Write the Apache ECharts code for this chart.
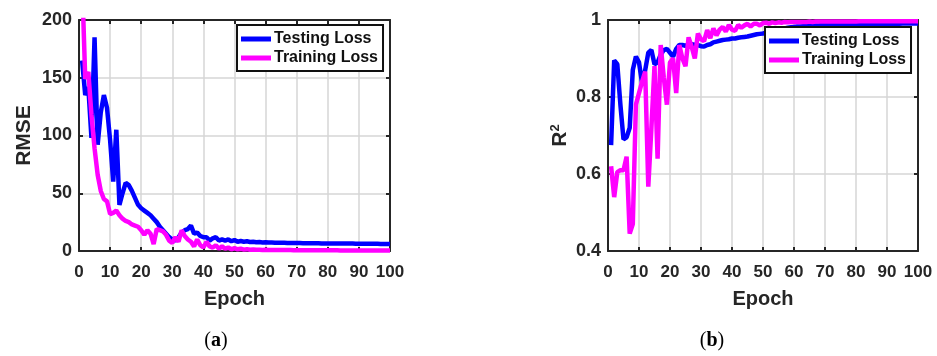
<!DOCTYPE html>
<html>
<head>
<meta charset="utf-8">
<script src="https://cdn.jsdelivr.net/npm/echarts@6/dist/echarts.min.js"></script>
<style>
  html, body { margin: 0; padding: 0; background: #fff; }
  #main { width: 937px; height: 356px; }
</style>
</head>
<body>
<div id="main"></div>
<script>
// 左图：RMSE，右图：R^2，横轴为 epoch 1..100
var seriesNames = ['Testing Loss', 'Training Loss'];

var testRmse = [
  165, 135, 142, 98, 185, 92, 120, 135, 124, 96,
  60, 105, 40, 50, 59, 57, 52, 46, 40, 37,
  35, 33, 31, 28, 25, 21, 18, 15, 12, 10,
  9, 12, 16, 18, 19, 22, 15, 16, 13, 12,
  12, 9, 11, 12, 9, 10, 9, 10, 8.5, 9.5,
  8, 8.6, 8, 8.4, 7.8, 8, 7.6, 7.7, 7.4, 7.5,
  7.3, 7.3, 7.2, 7.2, 7.1, 7.1, 7, 7, 7, 6.9,
  6.9, 6.8, 6.8, 6.8, 6.7, 6.7, 6.7, 6.6, 6.6, 6.6,
  6.5, 6.5, 6.5, 6.5, 6.4, 6.4, 6.4, 6.4, 6.3, 6.3,
  6.3, 6.3, 6.2, 6.2, 6.2, 6.2, 6.1, 6.1, 6.1, 6.0
];
var trainRmse = [
  235, 149, 155, 118, 89, 66, 52, 45, 43, 32,
  33, 35, 31, 28, 26, 25, 23, 22, 21, 18,
  14, 18, 15, 6, 19, 18, 17, 14, 9, 7,
  12, 8, 18, 13, 10, 8, 4, 10, 5, 3,
  8, 4, 3, 5, 2, 4, 2, 3, 1.5, 2.5,
  1.5, 2, 1.2, 1.6, 1.1, 1.3, 1, 1.1, 0.9, 1,
  0.9, 0.9, 0.9, 0.8, 0.8, 0.8, 0.8, 0.8, 0.7, 0.7,
  0.7, 0.7, 0.7, 0.7, 0.6, 0.6, 0.6, 0.6, 0.6, 0.6,
  0.6, 0.6, 0.6, 0.5, 0.5, 0.5, 0.5, 0.5, 0.5, 0.5,
  0.5, 0.5, 0.5, 0.5, 0.5, 0.5, 0.5, 0.5, 0.5, 0.5
];
var testR2 = [
  0.675, 0.895, 0.885, 0.78, 0.69, 0.695, 0.72, 0.87, 0.905, 0.89,
  0.835, 0.87, 0.915, 0.922, 0.885, 0.89, 0.91, 0.922, 0.925, 0.915,
  0.905, 0.925, 0.935, 0.935, 0.933, 0.935, 0.937, 0.936, 0.935, 0.932,
  0.931, 0.935, 0.937, 0.942, 0.944, 0.946, 0.948, 0.949, 0.95, 0.952,
  0.952, 0.954, 0.955, 0.956, 0.957, 0.959, 0.961, 0.963, 0.964, 0.965,
  0.967, 0.969, 0.971, 0.973, 0.975, 0.977, 0.978, 0.98, 0.981, 0.982,
  0.983, 0.983, 0.984, 0.984, 0.985, 0.985, 0.986, 0.986, 0.987, 0.987,
  0.987, 0.988, 0.988, 0.988, 0.988, 0.989, 0.989, 0.989, 0.989, 0.989,
  0.99, 0.99, 0.99, 0.99, 0.99, 0.99, 0.99, 0.99, 0.99, 0.99,
  0.99, 0.99, 0.99, 0.99, 0.991, 0.991, 0.991, 0.991, 0.991, 0.991
];
var trainR2 = [
  0.62, 0.54, 0.605, 0.61, 0.61, 0.645, 0.445, 0.47, 0.78, 0.81,
  0.84, 0.866, 0.567, 0.72, 0.88, 0.64, 0.935, 0.85, 0.78, 0.89,
  0.90, 0.81, 0.935, 0.90, 0.88, 0.955, 0.93, 0.90, 0.965, 0.95,
  0.945, 0.974, 0.953, 0.978, 0.96, 0.975, 0.982, 0.97, 0.987, 0.975,
  0.972, 0.987, 0.98, 0.986, 0.99, 0.983, 0.99, 0.99, 0.986, 0.992,
  0.993, 0.99, 0.994, 0.992, 0.994, 0.993, 0.995, 0.994, 0.995, 0.995,
  0.995, 0.995, 0.995, 0.995, 0.996, 0.995, 0.996, 0.996, 0.996, 0.996,
  0.996, 0.996, 0.996, 0.996, 0.996, 0.996, 0.996, 0.996, 0.996, 0.996,
  0.997, 0.997, 0.997, 0.997, 0.997, 0.997, 0.997, 0.997, 0.997, 0.997,
  0.997, 0.997, 0.997, 0.997, 0.997, 0.997, 0.997, 0.997, 0.997, 0.997
];

var FONT = '"Liberation Sans", Arial, sans-serif';
var AX = '#262626';

function toPairs(arr) {
  return arr.map(function (v, i) { return [i + 1, v]; });
}

function mainX(gi) {
  return {
    type: 'value', gridIndex: gi, min: 0, max: 100, interval: 10,
    name: 'Epoch', nameLocation: 'middle', nameGap: 38,
    nameTextStyle: { fontFamily: FONT, fontWeight: 'bold', fontSize: 20, color: AX },
    axisLine: { show: true, onZero: false, lineStyle: { color: AX, width: 2 } },
    axisTick: { show: true, inside: true, length: 4, lineStyle: { color: AX, width: 2 } },
    axisLabel: { fontFamily: FONT, fontWeight: 'bold', fontSize: 17, color: AX, margin: 13 },
    splitLine: { show: true, lineStyle: { color: '#d6d6d6', width: 1.5 } }
  };
}
function topX(gi) {
  return {
    type: 'value', gridIndex: gi, position: 'top', min: 0, max: 100, interval: 10,
    axisLine: { show: true, onZero: false, lineStyle: { color: AX, width: 2 } },
    axisTick: { show: true, inside: true, length: 4, lineStyle: { color: AX, width: 2 } },
    axisLabel: { show: false }, splitLine: { show: false }
  };
}
function mainY(gi, min, max, interval, name, gap) {
  return {
    type: 'value', gridIndex: gi, min: min, max: max, interval: interval,
    name: name, nameLocation: 'middle', nameGap: gap,
    nameTextStyle: {
      fontFamily: FONT, fontWeight: 'bold', fontSize: 21, color: AX,
      rich: { sup: { fontFamily: FONT, fontWeight: 'bold', fontSize: 13, color: AX, verticalAlign: 'top', padding: [0, 0, 10, 0] } }
    },
    axisLine: { show: true, onZero: false, lineStyle: { color: AX, width: 2 } },
    axisTick: { show: true, inside: true, length: 4, lineStyle: { color: AX, width: 2 } },
    axisLabel: { fontFamily: FONT, fontWeight: 'bold', fontSize: 18, color: AX, margin: 7 },
    splitLine: { show: true, lineStyle: { color: '#d6d6d6', width: 1.5 } }
  };
}
function rightY(gi, min, max, interval) {
  return {
    type: 'value', gridIndex: gi, position: 'right', min: min, max: max, interval: interval,
    axisLine: { show: true, onZero: false, lineStyle: { color: AX, width: 2 } },
    axisTick: { show: true, inside: true, length: 4, lineStyle: { color: AX, width: 2 } },
    axisLabel: { show: false }, splitLine: { show: false }
  };
}
function lineSeries(name, color, xi, yi, arr) {
  return {
    name: name, type: 'line', xAxisIndex: xi, yAxisIndex: yi,
    data: toPairs(arr), showSymbol: false, symbol: 'none', animation: false,
    lineStyle: { color: color, width: 4.5 }, itemStyle: { color: color }
  };
}
function legendAt(left, top) {
  return {
    data: seriesNames, orient: 'vertical', left: left, top: top,
    icon: 'rect', itemWidth: 30, itemHeight: 5, itemGap: 3,
    backgroundColor: '#fff', borderColor: '#111', borderWidth: 2,
    padding: [6, 5, 5, 4], selectedMode: false,
    textStyle: { fontFamily: FONT, fontWeight: 'bold', fontSize: 16, color: '#111', padding: [0, 0, 0, -2] }
  };
}

var chart = echarts.init(document.getElementById('main'), null, { renderer: 'canvas' });
var option = {
  backgroundColor: '#fff',
  animation: false,
  grid: [
    { left: 79, top: 20, width: 311, height: 231, show: false },
    { left: 608, top: 20, width: 310, height: 231, show: false }
  ],
  xAxis: [mainX(0), topX(0), mainX(1), topX(1)],
  yAxis: [
    mainY(0, 0, 200, 50, 'RMSE', 44), rightY(0, 0, 200, 50),
    mainY(1, 0.4, 1, 0.2, 'R{sup|2}', 36), rightY(1, 0.4, 1, 0.2)
  ],
  legend: [legendAt(237, 25), legendAt(765, 27)],
  series: [
    lineSeries(seriesNames[0], '#0000ff', 0, 0, testRmse),
    lineSeries(seriesNames[1], '#ff00ff', 0, 0, trainRmse),
    lineSeries(seriesNames[0], '#0000ff', 2, 2, testR2),
    lineSeries(seriesNames[1], '#ff00ff', 2, 2, trainR2)
  ],
  graphic: [
    { type: 'text', x: 216, y: 341, style: { text: '({b|a})', fontFamily: '"Liberation Serif", serif', fontSize: 20, fill: '#000', textAlign: 'center', textVerticalAlign: 'middle',
      rich: { b: { fontFamily: '"Liberation Serif", serif', fontWeight: 'bold', fontSize: 20, fill: '#000' } } } },
    { type: 'text', x: 712, y: 341, style: { text: '({b|b})', fontFamily: '"Liberation Serif", serif', fontSize: 20, fill: '#000', textAlign: 'center', textVerticalAlign: 'middle',
      rich: { b: { fontFamily: '"Liberation Serif", serif', fontWeight: 'bold', fontSize: 20, fill: '#000' } } } }
  ]
};
chart.setOption(option);
</script>
</body>
</html>
